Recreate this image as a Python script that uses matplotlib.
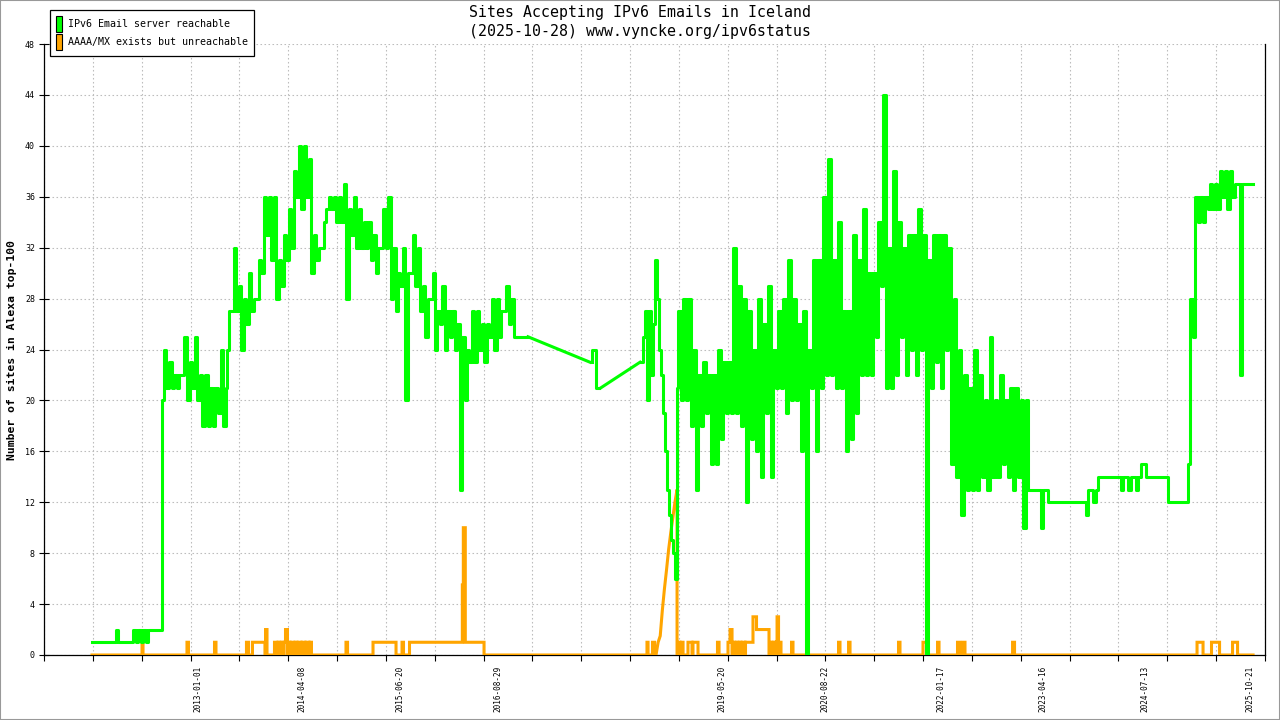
import numpy as np
import pandas as pd
import matplotlib
matplotlib.use("Agg")
import matplotlib.pyplot as plt
from matplotlib.patches import Patch, Rectangle

""" values read off the chart, x in decimal years """

# IPv6 Email server reachable: (start year, end year, values spread evenly between).
reach_segments = [
    (2011.716, 2012.568, [1, 1, 1, 1, 1, 1, 1, 1, 1, 1, 2, 1, 1, 1, 1, 1, 1, 2, 1, 2,
                          1, 2, 1, 2, 2, 2, 2, 2, 2]),
    (2012.574, 2013.359, [(20, 24), (21, 23), (21, 22), (21, 22), (22, 25), (20, 23),
                          (21, 25), (20, 22), (18, 22), (18, 21), (18, 21), (19, 24),
                          (18, 21)]),
    (2013.365, 2014.795, [(24, 27), (27, 32), (27, 29), (24, 28), (26, 30), (27, 28),
                          (28, 31), (30, 36), (33, 36), (31, 36), (28, 31), (29, 33),
                          (31, 35), (32, 38), (36, 40), (35, 40), (36, 39), (30, 33),
                          (31, 32), (32, 34), (35, 36), (35, 36), (34, 36), (34, 37)]),
    (2014.826, 2016.894, [(28, 35), (33, 36), (32, 35), (32, 34), (32, 34), (31, 33),
                          (30, 32), (32, 35), (32, 36), (28, 32), (27, 30), (29, 32),
                          (20, 30), (30, 33), (29, 32), (27, 29), (25, 28), (28, 30),
                          (24, 27), (26, 29), (24, 27), (25, 27), (24, 26), (13, 25),
                          (20, 24), (23, 27), (23, 27), (24, 26), (23, 26), (25, 28),
                          (24, 28), (25, 27), (27, 29), (26, 28), (25, 25)]),
    # sparse measurements 2017-2018
    (2017.022, 2017.022, [25]),
    (2017.777, 2017.911, [23, 24, 21, 21]),
    (2018.385, 2018.823, [23, 23, 25, 27, 20, 27, 22, 26, 31, 28, 24, 22, 19, 16, 13, 11,
                          9, 8, 6]),
    (2018.836, 2022.030, [(21, 27), (20, 28), (20, 28), (18, 24), (13, 22), (18, 23),
                          (19, 22), (15, 22), (15, 24), (17, 23), (19, 23), (19, 32),
                          (19, 29), (18, 28), (12, 27), (17, 24), (16, 28), (14, 26),
                          (19, 29), (14, 24), (21, 27), (21, 28), (19, 31), (20, 28),
                          (20, 26), (16, 27), (0, 24), (21, 31), (16, 31), (21, 36),
                          (22, 39), (22, 31), (21, 34), (21, 27), (16, 27), (17, 33),
                          (19, 31), (22, 35), (22, 30), (22, 30), (25, 34), (29, 44),
                          (21, 32), (21, 38), (22, 34), (25, 32), (22, 33), (24, 33),
                          (22, 35), (24, 33), (0, 31), (21, 33), (23, 33)]),
    (2022.061, 2023.095, [(21, 33), (24, 32), (15, 28), (14, 24), (11, 22), (13, 21),
                          (13, 24), (13, 22), (14, 20), (13, 25), (14, 20), (14, 22),
                          (15, 20), (14, 21), (13, 21), (14, 20), (10, 20)]),
    (2023.125, 2025.042, [13] * 5 + [10] + [13, 13] + [12] * 15 + [11] + [13, 13, 12, 13]
                         + [14] * 9 + [13] + [14, 14] + [13] + [14, 14] + [13] + [14]
                         + [15, 15] + [14] * 9 + [12] * 8),
    (2025.067, 2025.846, [15, 28, 25, 36, 34, 36, 34, 36, 35, 37, 35, 37, 35, 38, 36, 38,
                          35, 38, 36, 37, 37, 22, 37, 37, 37, 37, 37]),
]

# AAAA/MX exists but unreachable: zero except these (start, end, level) blocks
unreach_start = 2011.716
unreach_end = 2025.846
unreach_blocks = [
    (2012.325, 2012.337, 1), (2012.872, 2012.890, 1), (2013.207, 2013.225, 1),
    (2013.596, 2013.621, 1), (2013.669, 2013.821, 1), (2013.828, 2013.846, 2),
    (2013.937, 2013.968, 1), (2013.980, 2014.004, 1), (2014.016, 2014.047, 1),
    (2014.053, 2014.071, 1), (2014.071, 2014.095, 2), (2014.101, 2014.126, 1),
    (2014.138, 2014.174, 1), (2014.187, 2014.211, 1), (2014.223, 2014.260, 1),
    (2014.272, 2014.308, 1), (2014.320, 2014.357, 1), (2014.369, 2014.387, 1),
    (2014.807, 2014.826, 1), (2015.136, 2015.416, 1), (2015.489, 2015.507, 1),
    (2015.580, 2016.223, 1), (2016.223, 2016.235, 5.5), (2016.235, 2016.259, 10),
    (2016.259, 2016.487, 1), (2018.470, 2018.483, 1), (2018.537, 2018.562, 1),
    (2018.580, 2018.836, [0, 1, 1.5, 3.5, 5.2, 6.7, 8.3, 9.6, 10.8, 12, 13]),
    (2018.848, 2018.872, 1), (2018.890, 2018.909, 1), (2018.969, 2019.018, 1),
    (2019.030, 2019.091, 1), (2019.328, 2019.347, 1), (2019.456, 2019.481, 1),
    (2019.481, 2019.505, 2), (2019.517, 2019.541, 1), (2019.554, 2019.578, 1),
    (2019.590, 2019.614, 1), (2019.627, 2019.663, 1), (2019.669, 2019.760, 1),
    (2019.760, 2019.803, 3), (2019.803, 2019.955, 2), (2019.973, 2019.992, 1),
    (2020.004, 2020.028, 1), (2020.040, 2020.053, 1), (2020.053, 2020.071, 3),
    (2020.077, 2020.101, 1), (2020.229, 2020.247, 1), (2020.801, 2020.819, 1),
    (2020.923, 2020.941, 1), (2021.531, 2021.549, 1), (2021.829, 2021.878, 1),
    (2022.006, 2022.024, 1), (2022.249, 2022.280, 1), (2022.316, 2022.340, 1),
    (2022.919, 2022.943, 1), (2025.164, 2025.237, 1), (2025.340, 2025.438, 1),
    (2025.596, 2025.657, 1),
]

date_labels = ["2013-01-01", "2014-04-08", "2015-06-20", "2016-08-29", "2019-05-20",
               "2020-08-22", "2022-01-17", "2023-04-16", "2024-07-13", "2025-10-21"]
y_ticks = list(range(0, 49, 4))
x_range = (2011.132, 2025.991)

series_names = ["IPv6 Email server reachable", "AAAA/MX exists but unreachable"]
series_colors = ["#00ff00", "#ffa500"]


def dec_year(day):
    t = pd.Timestamp(day)
    return t.year + (t.dayofyear - 1) / (366 if t.is_leap_year else 365)


def build_reach():
    xs, ys = [], []
    for a, b, vals in reach_segments:
        flat = []
        for v in vals:
            flat.extend(v if isinstance(v, tuple) else [v])
        xs.extend(np.linspace(a, b, len(flat)))
        ys.extend(flat)
    return np.array(xs), np.array(ys, dtype=float)


def build_unreach():
    xs, ys = [unreach_start], [0.0]
    for i, (a, b, lev) in enumerate(unreach_blocks):
        if abs(a - xs[-1]) > 1e-6:
            xs.append(a)
            ys.append(0.0)
        if isinstance(lev, list):
            xs.extend(np.linspace(a, b, len(lev)))
            ys.extend(lev)
        else:
            xs += [a, b]
            ys += [lev, lev]
        nxt = unreach_blocks[i + 1][0] if i + 1 < len(unreach_blocks) else None
        if nxt is None or abs(nxt - b) > 1e-6:
            xs.append(b)
            ys.append(0.0)
    xs.append(unreach_end)
    ys.append(0.0)
    return np.array(xs), np.array(ys, dtype=float)


plt.rcParams["font.family"] = ["DejaVu Sans Mono", "DejaVu Sans"]

fig = plt.figure(figsize=(12.8, 7.2), dpi=100, facecolor="white")
ax = fig.add_axes([44 / 1280, 1 - 655 / 720, (1265 - 44) / 1280, (655 - 44) / 720])

rx, ry = build_reach()
ux, uy = build_unreach()
ax.plot(ux, uy, color=series_colors[1], lw=2.2, solid_joinstyle="miter", zorder=3)

# daily data: draw as steps, but join the sparse 2017-2018 points with straight lines
wide = np.where(np.diff(rx) > 0.05)[0]
sx = np.insert(rx, wide + 1, np.nan)
sy = np.insert(ry, wide + 1, np.nan)
ax.plot(sx, sy, color=series_colors[0], lw=2.2, drawstyle="steps-mid", zorder=4)
for i in wide:
    ax.plot(rx[i:i + 2], ry[i:i + 2], color=series_colors[0], lw=2.2, zorder=4)

ax.set_xlim(*x_range)
ax.set_ylim(0, 48)

grid_style = dict(color="#bdbdbd", linestyle=(0, (1.4, 2.2)), linewidth=0.8)
ax.set_yticks(y_ticks)
ax.set_yticklabels([str(v) for v in y_ticks])
ax.yaxis.grid(True, which="major", **grid_style)

ax.set_xticks([dec_year(d) for d in date_labels])
ax.set_xticklabels(date_labels, rotation=90)
ax.set_xticks(np.linspace(x_range[0], x_range[1], 26), minor=True)
ax.xaxis.grid(True, which="minor", **grid_style)
ax.xaxis.grid(False, which="major")
ax.set_axisbelow(True)

ax.tick_params(axis="y", which="major", direction="inout", length=7, width=0.8,
               labelsize=6, pad=3)
ax.tick_params(axis="x", which="major", length=0, labelsize=5.5, pad=8)
ax.tick_params(axis="x", which="minor", direction="out", length=4, width=0.8)

for side in ["left", "bottom", "right"]:
    ax.spines[side].set_color("black")
    ax.spines[side].set_linewidth(0.9)
ax.spines["top"].set_visible(False)

fig.text(12 / 1280, 0.514, "Number of sites in Alexa top-100", rotation=90,
         ha="center", va="center", fontsize=8.2, fontweight="bold")
fig.text(0.5, 1 - 5 / 720,
         "Sites Accepting IPv6 Emails in Iceland\n(2025-10-28) www.vyncke.org/ipv6status",
         ha="center", va="top", fontsize=10.7, linespacing=1.3)

handles = [Patch(facecolor=c, edgecolor="black", linewidth=0.8) for c in series_colors]
leg = ax.legend(handles, series_names, loc="upper left",
                bbox_to_anchor=(50 / 1280, 1 - 10 / 720), bbox_transform=fig.transFigure,
                fontsize=7.2, handlelength=0.6, handleheight=2.1, handletextpad=0.6,
                labelspacing=0.15, borderpad=0.6, borderaxespad=0, fancybox=False,
                framealpha=1, edgecolor="black")
leg.get_frame().set_linewidth(0.9)
leg.set_zorder(10)

fig.add_artist(Rectangle((0, 0), 1, 1, transform=fig.transFigure, fill=False,
                         edgecolor="#999999", linewidth=1.5))

fig.savefig("out.png", dpi=100, facecolor="white")
